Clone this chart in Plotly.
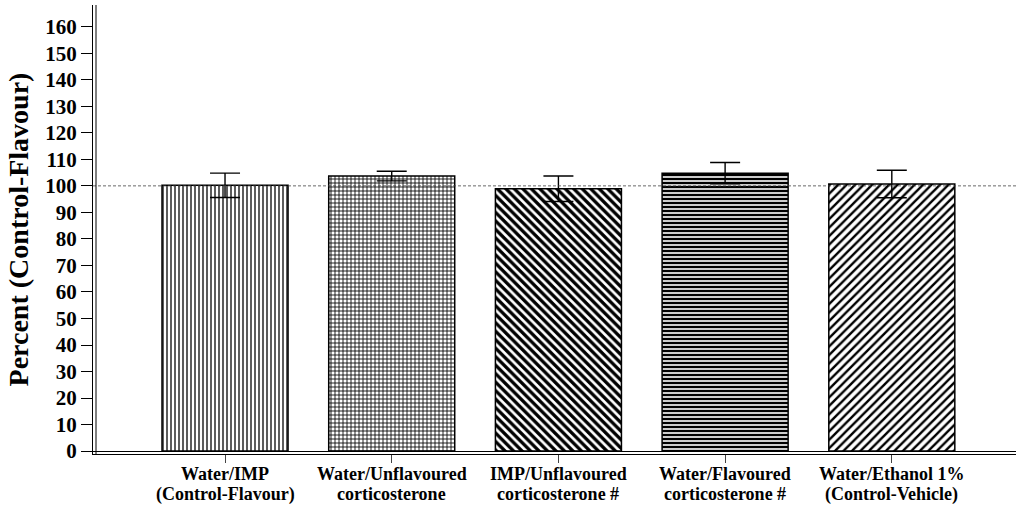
import plotly.graph_objects as go

# Group labels, first and second line
label_line1 = ["Water/IMP", "Water/Unflavoured", "IMP/Unflavoured",
               "Water/Flavoured", "Water/Ethanol 1%"]
label_line2 = ["(Control-Flavour)", "corticosterone", "corticosterone #",
               "corticosterone #", "(Control-Vehicle)"]
# Mean percent of control-flavour intake and SEM
means = [100.2, 103.7, 98.9, 104.8, 100.7]
sems = [4.6, 1.8, 4.8, 4.0, 5.2]
# Fill hatching per group
hatch_shapes = ["|", "+", "\\", "-", "/"]
hatch_sizes = [4, 4, 6, 4, 6]
hatch_solidity = [0.32, 0.38, 0.55, 0.6, 0.4]
reference_level = 100
y_ticks = list(range(0, 161, 10))

serif = "Liberation Serif, Times New Roman, serif"
x_idx = list(range(len(means)))

fig = go.Figure()
fig.add_trace(go.Bar(
    x=x_idx,
    y=means,
    width=0.756,
    marker=dict(
        color="white",
        line=dict(color="black", width=1.5),
        pattern=dict(
            shape=hatch_shapes,
            size=hatch_sizes,
            solidity=hatch_solidity,
            fgcolor="black",
            fgopacity=1,
            bgcolor="white",
            fillmode="overlay",
        ),
    ),
    error_y=dict(type="data", array=sems, symmetric=True,
                 color="black", thickness=1.4, width=15),
    showlegend=False,
))

# Dashed reference line at 100 %
fig.add_shape(type="line", xref="paper", x0=0, x1=1,
              yref="y", y0=reference_level, y1=reference_level,
              line=dict(color="#444444", width=0.8, dash="3px,2px"),
              layer="above")

# Inner line of the double y-axis frame
fig.add_shape(type="line", xref="x", x0=-0.774, x1=-0.774,
              yref="paper", y0=0, y1=1,
              line=dict(color="black", width=1), layer="above")

# Two-line category labels under the axis
label_font = dict(family=serif, size=18, color="black", weight="bold")
for xi, l1, l2 in zip(x_idx, label_line1, label_line2):
    fig.add_annotation(x=xi, xref="x", y=0, yref="paper", text=l1,
                       showarrow=False, yanchor="middle", yshift=-20,
                       font=label_font)
    fig.add_annotation(x=xi, xref="x", y=0, yref="paper", text=l2,
                       showarrow=False, yanchor="middle", yshift=-40,
                       font=label_font)

fig.update_layout(
    width=1016, height=507,
    margin=dict(l=93, r=0, t=5, b=53),
    plot_bgcolor="white", paper_bgcolor="white",
    font=dict(family=serif, color="black"),
)
fig.update_xaxes(
    range=[-0.792, 4.745],
    tickmode="array", tickvals=x_idx, showticklabels=False,
    ticks="outside", ticklen=8, tickcolor="#444444", tickwidth=1,
    showline=True, linecolor="black", linewidth=1,
    showgrid=False, zeroline=False, automargin=False,
)
fig.update_yaxes(
    range=[-1.1, 168.2],
    tickmode="array", tickvals=y_ticks,
    tickfont=dict(family=serif, size=21, color="black", weight="bold"),
    ticks="outside", ticklen=11, tickcolor="black", tickwidth=1,
    showline=True, linecolor="black", linewidth=1,
    showgrid=False, automargin=False,
    zeroline=True, zerolinecolor="black", zerolinewidth=1,
    title=dict(text="Percent (Control-Flavour)",
               font=dict(family=serif, size=28, color="black", weight="bold"),
               standoff=8),
)

fig.write_html("out.html")
